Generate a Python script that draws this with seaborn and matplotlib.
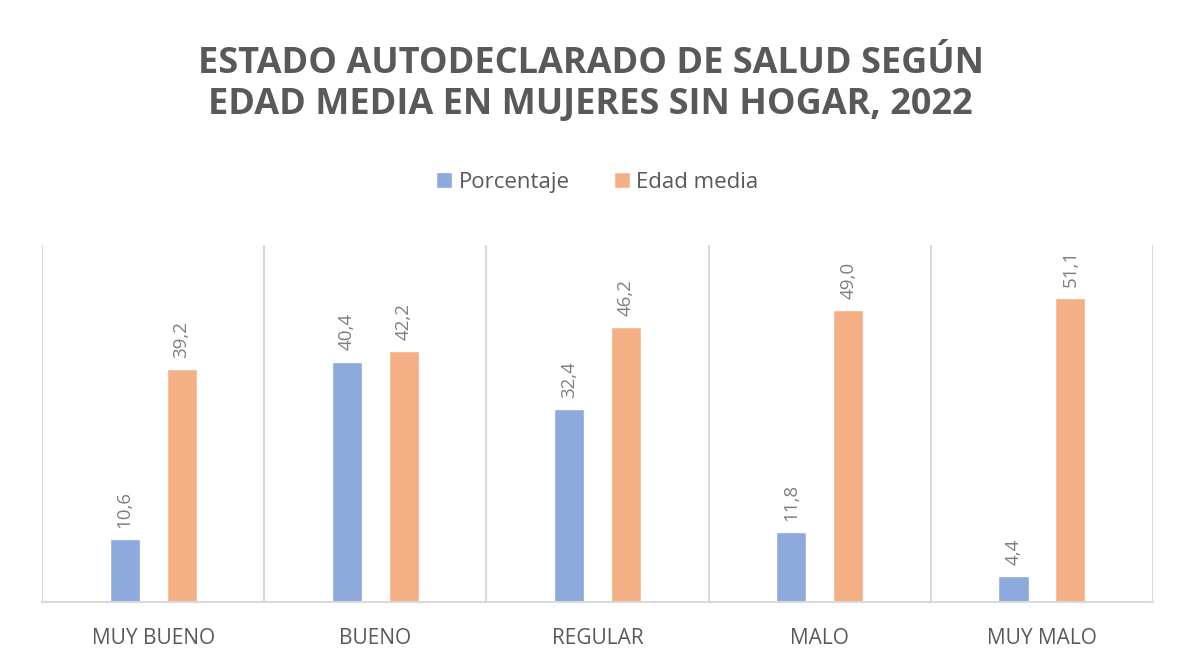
import pandas as pd
import seaborn as sns
import matplotlib.pyplot as plt

# --- data ---
categories = ["MUY BUENO", "BUENO", "REGULAR", "MALO", "MUY MALO"]
porcentaje = [10.6, 40.4, 32.4, 11.8, 4.4]
edad_media = [39.2, 42.2, 46.2, 49.0, 51.1]
series_names = ["Porcentaje", "Edad media"]
title_text = "ESTADO AUTODECLARADO DE SALUD SEGÚN\nEDAD MEDIA EN MUJERES SIN HOGAR, 2022"

# --- style ---
BLUE = "#8EA9DB"
ORANGE = "#F4B084"
TEXT_GRAY = "#595959"
LABEL_GRAY = "#7F7F7F"
GRID_GRAY = "#D9D9D9"

sns.set_theme(style="white")
plt.rcParams["font.family"] = ["Open Sans", "DejaVu Sans"]

df = pd.DataFrame({
    "Estado": categories * 2,
    "Serie": [series_names[0]] * len(categories) + [series_names[1]] * len(categories),
    "Valor": porcentaje + edad_media,
})

fig = plt.figure(figsize=(11.81, 6.63), dpi=100)
ax = fig.add_axes([0.0356, 0.092, 0.9407, 0.5385])

sns.barplot(
    data=df, x="Estado", y="Valor", hue="Serie",
    palette=[BLUE, ORANGE], width=0.512, gap=0.47,
    saturation=1, ax=ax, legend=True,
)

ax.set_ylim(0, 60)
ax.set_xlim(-0.5, len(categories) - 0.5)

# category separators
for b in range(len(categories) + 1):
    ax.axvline(b - 0.5, color=GRID_GRAY, lw=1.5, zorder=0)

for side in ["top", "right", "left"]:
    ax.spines[side].set_visible(False)
ax.spines["bottom"].set_color(GRID_GRAY)
ax.spines["bottom"].set_linewidth(1.5)

ax.set_yticks([])
ax.set_xlabel("")
ax.set_ylabel("")
ax.tick_params(axis="x", length=0, pad=19, labelsize=15, labelcolor=TEXT_GRAY)

# value labels, decimal comma, rotated
for cont in ax.containers:
    labels = [f"{b.get_height():.1f}".replace(".", ",") for b in cont]
    ax.bar_label(cont, labels=labels, rotation=90, padding=8,
                 fontsize=13.5, color=LABEL_GRAY)

leg = ax.legend(loc="center", bbox_to_anchor=(0.5, 1.176), ncol=2, frameon=False,
                fontsize=16, handlelength=0.7, handleheight=0.7,
                handletextpad=0.3, columnspacing=2.0)
for t in leg.get_texts():
    t.set_color(TEXT_GRAY)

fig.text(0.5, 0.873, title_text, ha="center", va="center", fontsize=26,
         fontweight="bold", color=TEXT_GRAY, linespacing=1.2)

fig.savefig("out.png", dpi=100)
